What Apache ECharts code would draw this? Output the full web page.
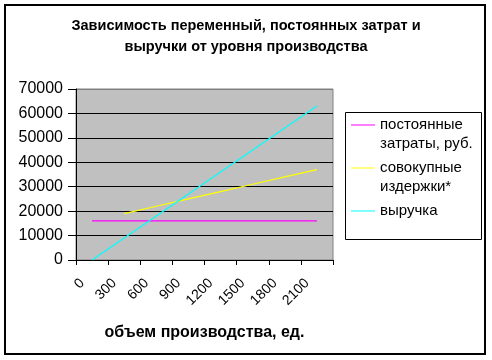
<!DOCTYPE html>
<html>
<head>
<meta charset="utf-8">
<script src="https://cdn.jsdelivr.net/npm/echarts@6/dist/echarts.min.js"></script>
<style>html,body{margin:0;padding:0;background:#fff;}#c{width:492px;height:360px;}</style>
</head>
<body>
<div id="c"></div>
<script>
var categories = ['0', '300', '600', '900', '1200', '1500', '1800', '2100'];
var fixedCosts = [16000, 16000, 16000, 16000, 16000, 16000, 16000, 16000];
var totalCosts = [null, 19000, 22000, 25000, 28000, 31000, 34000, 37000];
var revenue = [0, 9000, 18000, 27000, 36000, 45000, 54000, 63000];
var yTicks = [0, 10000, 20000, 30000, 40000, 50000, 60000, 70000];
var seriesNames = ['постоянные\nзатраты, руб.', 'совокупные\nиздержки*', 'выручка'];
var titleText = 'Зависимость переменный, постоянных затрат и\nвыручки от уровня производства';
var xAxisName = 'объем производства, ед.';

var font = 'Arial, "Liberation Sans", sans-serif';
var chart = echarts.init(document.getElementById('c'), null, {renderer: 'canvas'});
var gridColors = yTicks.map(function (v, i) { return i === yTicks.length - 1 ? '#808080' : '#000000'; });

chart.setOption({
  animation: false,
  backgroundColor: '#ffffff',
  title: {
    text: titleText,
    left: 'center',
    top: 15,
    padding: 0,
    textStyle: {fontFamily: font, fontSize: 14.5, fontWeight: 'bold', color: '#000', lineHeight: 21}
  },
  graphic: [
    {type: 'rect', z: -10, shape: {x: 5, y: 5, width: 480, height: 349}, style: {fill: '#fff', stroke: '#000', lineWidth: 2}},
    {type: 'rect', z: 0, shape: {x: 345.5, y: 112.5, width: 136, height: 127}, style: {fill: '#fff', stroke: '#000', lineWidth: 1}}
  ],
  legend: {
    orient: 'vertical',
    left: 351,
    top: 96.5,
    padding: 0,
    itemGap: -14,
    itemWidth: 24,
    itemHeight: 1,
    icon: 'rect',
    selectedMode: false,
    z: 5,
    textStyle: {fontFamily: font, fontSize: 15, color: '#000', lineHeight: 19},
    formatter: function (name) {
      return name.indexOf('\n') >= 0 ? '\n' + name : '\n' + name + '\n';
    },
    data: seriesNames
  },
  grid: {
    left: 76, right: 159, top: 89, bottom: 100,
    show: true,
    backgroundColor: '#C0C0C0',
    borderColor: '#808080',
    borderWidth: 1
  },
  xAxis: {
    type: 'category',
    data: categories,
    boundaryGap: true,
    name: xAxisName,
    nameLocation: 'middle',
    nameGap: 65,
    nameTextStyle: {fontFamily: font, fontSize: 16, fontWeight: 'bold', color: '#000'},
    axisLine: {show: true, lineStyle: {color: '#000', width: 1}},
    axisTick: {show: true, alignWithLabel: false, length: 5, lineStyle: {color: '#000'}},
    axisLabel: {interval: 0, rotate: 45, fontFamily: font, fontSize: 14, color: '#000', margin: 11, padding: [0, 14, 0, 0]},
    splitLine: {show: false}
  },
  yAxis: {
    type: 'value',
    min: yTicks[0],
    max: yTicks[yTicks.length - 1],
    interval: 10000,
    axisLine: {show: true, lineStyle: {color: '#000', width: 1}},
    axisTick: {show: true, length: 8, lineStyle: {color: '#000'}},
    axisLabel: {fontFamily: font, fontSize: 16, color: '#000', margin: 13, formatter: function (v) { return String(v); }},
    splitLine: {show: true, lineStyle: {color: gridColors, width: 1}}
  },
  series: [
    {name: seriesNames[0], type: 'line', data: fixedCosts, symbol: 'none', showSymbol: false, color: '#FF00FF', lineStyle: {color: '#FF00FF', width: 1.2}},
    {name: seriesNames[1], type: 'line', data: totalCosts, symbol: 'none', showSymbol: false, color: '#FFFF00', lineStyle: {color: '#FFFF00', width: 1.2}},
    {name: seriesNames[2], type: 'line', data: revenue, symbol: 'none', showSymbol: false, color: '#00FFFF', lineStyle: {color: '#00FFFF', width: 1.2}}
  ]
});
</script>
</body>
</html>
